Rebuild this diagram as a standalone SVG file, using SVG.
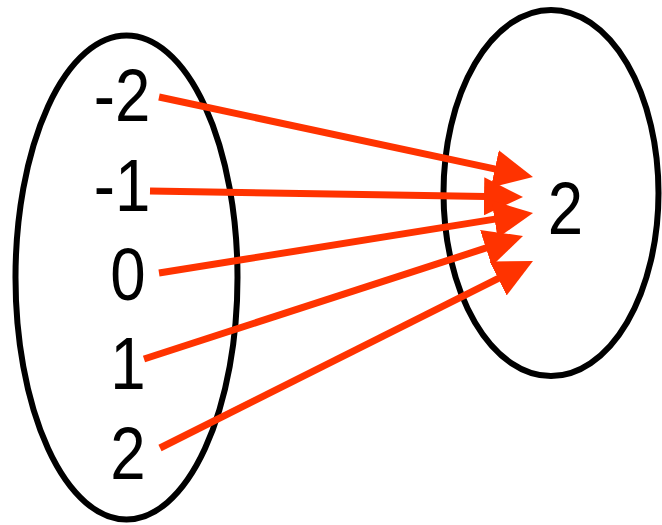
<svg xmlns="http://www.w3.org/2000/svg" width="662" height="525" viewBox="0 0 662 525">
  <style>
    .set { fill: none; stroke: #000; stroke-width: 6; }
    .lbl { font-family: "Liberation Sans", Arial, sans-serif; font-size: 74px; fill: #000; text-anchor: middle; }
    .arr { stroke: #ff3300; stroke-width: 7; fill: none; marker-end: url(#head); }
  </style>
  <defs>
    <marker id="head" markerUnits="userSpaceOnUse" markerWidth="40" markerHeight="38" refX="2" refY="19" orient="auto" viewBox="0 0 40 38">
      <path d="M0,0 L39,19 L0,38 z" fill="#ff3300"/>
    </marker>
  </defs>
  <rect width="662" height="525" fill="#fff"/>
  <g id="domain">
    <ellipse class="set" cx="126.5" cy="277.5" rx="111" ry="242"/>
    <text class="lbl" transform="translate(122,121) scale(0.86,1)">-2</text>
    <text class="lbl" transform="translate(122,211) scale(0.86,1)">-1</text>
    <text class="lbl" transform="translate(128,300) scale(0.86,1)">0</text>
    <text class="lbl" transform="translate(128,389) scale(0.86,1)">1</text>
    <text class="lbl" transform="translate(128,479) scale(0.86,1)">2</text>
  </g>
  <g id="range">
    <ellipse class="set" cx="551" cy="193" rx="107.5" ry="183"/>
    <text class="lbl" transform="translate(565.5,234) scale(0.86,1)">2</text>
  </g>
  <g id="connectors">
    <line class="arr" x1="159" y1="97" x2="496.8" y2="169.3"/>
    <line class="arr" x1="150" y1="191" x2="486" y2="196.4"/>
    <line class="arr" x1="159" y1="273" x2="496.5" y2="218.9"/>
    <line class="arr" x1="144" y1="359" x2="487.8" y2="247.4"/>
    <line class="arr" x1="160" y1="448" x2="499.9" y2="277.6"/>
  </g>
</svg>
